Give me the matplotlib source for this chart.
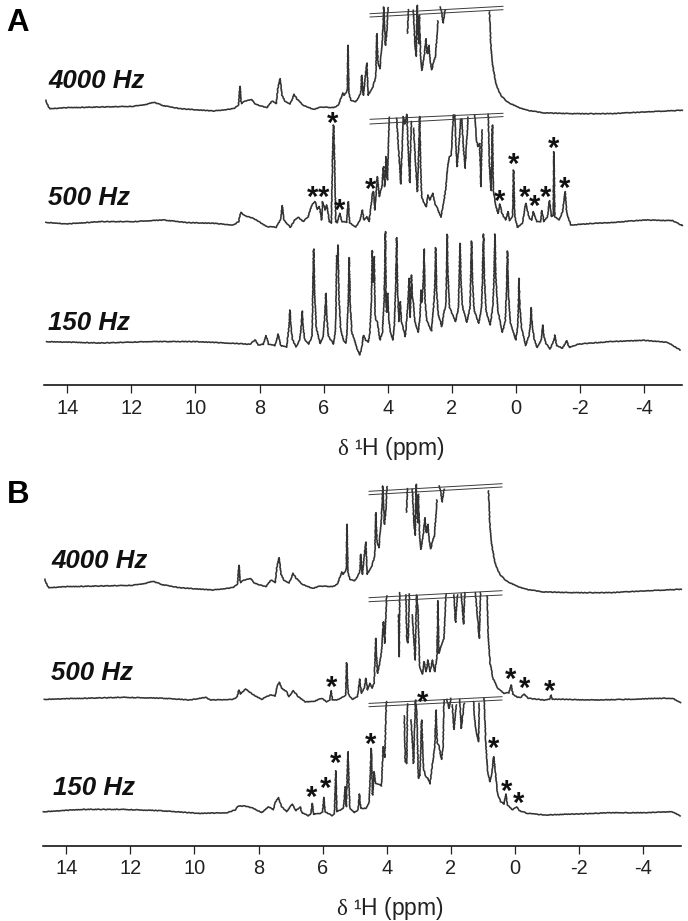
#! /usr/bin/env python3

import matplotlib
matplotlib.use('Agg')
import matplotlib.pyplot as plt

nan = float('nan')

plt.rcParams['font.family'] = ['Liberation Sans', 'DejaVu Sans']
plt.rcParams['mathtext.fontset'] = 'custom'
plt.rcParams['mathtext.rm'] = 'Liberation Sans'
plt.rcParams['mathtext.it'] = 'Liberation Serif'

# spectra: ppm and intensity above each trace's own baseline, nan = cut off at the break lines
hz4000_ppm = [14.67, 14.6, 14.54, 14.02, 12.98, 11.94, 11.52, 11.3, 11.0, 10.48, 9.44, 8.82, 8.66, 8.61, 8.57, 8.45, 8.24, 8.14, 7.98, 7.77,
              7.61, 7.48, 7.43, 7.36, 7.30, 7.2, 7.05, 6.92, 6.84, 6.63, 6.32, 6.06, 5.69, 5.54, 5.4, 5.36, 5.26, 5.24, 5.21, 5.15,
              5, 4.84, 4.81, 4.76, 4.65, 4.61, 4.48, 4.37, 4.34, 4.30, 4.24, 4.17, 4.14, 4.12, 4.07, 4.03, 3.99, nan,
              3.38, 3.35, nan,
              3.2, 3.15, 3.11, 3.08, 3.03, 3.01, 2.97, 2.93, 2.86, 2.81, 2.76, 2.71, 2.67, 2.62, 2.57, 2.51, 2.43, nan,
              2.36, 2.31, 2.27, 2.21, nan,
              0.82, 0.78, 0.73, 0.62, 0.47, 0.26, -0.05, -0.36, -0.89, -1.93, -2.97, -4.01, -5.2]
hz4000_int = [7.7, 1.7, -0.7, 0.3, 1, 1.7, 3.7, 5.7, 2.3, -0.7, -3, -0.7, 2.3, 21.7, 4.3, 7, 8.3, 4.3, 2.3, 0.3,
              7, 4.3, 19.3, 29.3, 12.7, 6.7, 3.7, 13.7, 9.3, 2.7, -1.3, 1, 0.3, 2.7, 15, 12.7, 17.7, 62.7, 14.3, 7.7,
              6, 14.3, 32.7, 12.7, 45, 12.7, 19.3, 31, 74.3, 44, 39.3, 66, 84.3, 101, 62.7, 74.3, 100.3, nan,
              75, 98.3, nan,
              97.7, 64.3, 51.7, 102.7, 64.3, 92.7, 51, 37.7, 51, 69.3, 54.3, 62.7, 46, 38.3, 46, 51, 87, nan,
              101, 94.3, 85, 97.7, nan,
              96, 64.3, 44.3, 24.3, 12.7, 6, 1, -2.3, -5, -5.7, -5.7, -4, -2.3]

a500_ppm = [14.67, 14.02, 12.98, 11.94, 11, 10.27, 9.44, 8.82, 8.65, 8.59, 8.45, 8.19, 7.98, 7.77, 7.48, 7.35, 7.29, 7.24, 7.04, 6.9,
            6.79, 6.63, 6.48, 6.37, 6.27, 6.19, 6.13, 6.06, 6.03, 5.95, 5.9, 5.82, 5.76, 5.72, 5.69, 5.66, 5.62, 5.57, 5.5, 5.43,
            5.36, 5.28, 5.23, 5.19, 5, 4.86, 4.79, 4.74, 4.65, 4.58, 4.47, 4.44, 4.4, 4.32, 4.26, 4.18, 4.13, 4.09, 4.05, 4.01, 3.95, nan,
            3.72, 3.66, 3.59, 3.54, 3.51, 3.46, 3.40, 3.36, 3.31, 3.26, nan,
            3.19, 3.13, 3.07, 3.03, 3.0, 2.97, 2.94, 2.86, 2.79, 2.74, 2.68, 2.59, 2.53, 2.45, 2.34, 2.26, 2.19, 2.13, 2.07, 2.01, 1.95, 1.90,
            1.87, 1.83, 1.78, 1.72, 1.68, 1.64, 1.58, 1.53, 1.49, nan,
            1.28, 1.23, 1.18, 1.13, 1.09, 1.05, nan,
            0.86, 0.82, 0.77, 0.73, 0.7, 0.62, 0.55, 0.5, 0.43, 0.32, 0.24, 0.19, 0.1, 0.07, 0.03, -0.05, -0.21, -0.31, -0.42, -0.5,
            -0.55, -0.66, -0.78, -0.81, -0.88, -0.99, -1.05, -1.11, -1.17, -1.19, -1.22, -1.35, -1.46, -1.54, -1.59, -1.72, -2.45, -2.97, -4.01, -4.89, -5.2]
a500_int = [1, -0.7, 1.7, 1.7, 3.3, 0.7, 0, -1.7, 1.7, 11, 7.3, 5, 0.7, -3.3, -4, 3.3, 17.7, 3.3, -4, 3.3,
            6, 1.7, 6.7, 18.3, 21.7, 14, 16.7, 3.3, 21.7, 13.3, 18.3, 1.7, 0, 66.7, 98.3, 66.7, 1.7, 0.7, 10, 1.7,
            1.7, 0.7, 21.7, 0.7, -4, 3.3, 13.3, 3.3, 6.7, 1.7, 30, 31.7, 13.3, 46.7, 26.7, 36.7, 56.7, 36.7, 66.7, 43.3, 106, nan,
            105, 73.3, 39.3, 83.3, 106.7, 99.3, 109, 73.3, 40.7, 101.7, nan,
            95, 60, 31.7, 73.3, 106.7, 56.7, 26.7, 20, 16.7, 28.3, 23.3, 30, 20, 15, 6, 20, 33.3, 56.7, 66.7, 68.3, 108.3, 108.3,
            76.7, 56.7, 76.7, 104, 104, 76.7, 55, 83.3, 106, nan,
            108.3, 83.3, 76.7, 80, 36.7, 93.3, nan,
            109, 56.7, 32.7, 98.3, 31.7, 16.7, 10, 19.3, 10, 3.3, 11.7, 2.7, 6.7, 53.3, 6.7, -4, 0, 20, 5, 3.3,
            11.7, 1.7, 1.7, 12.7, 1.7, 6.7, 22.7, 6.7, 8.3, 71.7, 6.7, 3.3, 11.7, 31.7, 10, -1.7, 0, 0.7, 3.3, 2.7, -2.3]

a150_ppm = [14.65, 12.98, 11.42, 10.01, 8.82, 8.3, 8.14, 8.04, 7.88, 7.8, 7.72, 7.52, 7.42, 7.34, 7.15,
            7.13, 7.08, 7.05, 7.02, 6.97, 6.86, 6.75, 6.7, 6.67, 6.64, 6.59, 6.47,
            6.39, 6.36, 6.34, 6.31, 6.28, 6.23, 6.11, 6.01, 5.96, 5.93, 5.9, 5.85, 5.69,
            5.65, 5.62, 5.6, 5.59, 5.57, 5.55, 5.52, 5.47, 5.38, 5.31, 5.28, 5.23, 5.2, 5.17, 5.12, 5.05,
            4.96, 4.87, 4.81, 4.76, 4.74, 4.68, 4.61, 4.56, 4.51, 4.48, 4.45, 4.42, 4.39, 4.36, 4.32, 4.24,
            4.16, 4.11, 4.09, 4.07, 4.05, 4.03, 4, 3.97, 3.92, 3.84,
            3.79, 3.75, 3.72, 3.69, 3.65, 3.61, 3.57, 3.45,
            3.38, 3.36, 3.33, 3.3, 3.27, 3.26, 3.23, 3.2, 3.15, 3.05,
            2.99, 2.96, 2.93, 2.89, 2.86, 2.83, 2.78, 2.63,
            2.57, 2.53, 2.5, 2.47, 2.42, 2.31,
            2.24, 2.18, 2.16, 2.14, 2.12, 2.07, 1.88,
            1.79, 1.77, 1.74, 1.71, 1.66, 1.53,
            1.43, 1.41, 1.38, 1.35, 1.3, 1.16,
            1.07, 1.04, 1.01, 0.98, 0.93, 0.8,
            0.72, 0.68, 0.65, 0.62, 0.56, 0.42,
            0.33, 0.29, 0.26, 0.23, 0.17, 0,
            -0.06, -0.08, -0.1, -0.13, -0.18, -0.31,
            -0.42, -0.46, -0.48, -0.51, -0.57, -0.66,
            -0.79, -0.82, -0.84, -0.87, -0.94, -1.07,
            -1.19, -1.22, -1.25, -1.28, -1.46, -1.59, -1.67, -1.93, -2.13, -2.97, -4.01, -4.74, -5.13]
a150_int = [0.7, -0.7, 0.7, 0.7, -1, -2, 2.3, -2.7, -2, 6.7, -2, -3.3, 8.3, -3.3, -4.7,
            2.7, 15.6, 32.3, 15.6, 2.7, -4.7, 2.5, 15, 31.3, 16, 3, -2,
            4, 7, 45, 93.3, 50, 15, -1.3, 6, 27, 49, 26, 6, -1.7,
            6, 18, 70, 86.7, 80, 97.3, 45, 13, 2.3, -1, 6, 40, 84.7, 40, 10, 4,
            -6, -12.7, -6, 6.7, 6.7, 2, 0, 8, 40, 91.7, 60, 85.7, 26, 22, 20, 2.3,
            10.7, 44, 70, 110.7, 40, 30, 49, 25, 10, 2.3,
            18, 55, 104.7, 50, 20.7, 40.7, 20.7, 5.7,
            34, 45, 64, 25, 50, 67.3, 45, 40.7, 20.7, 10,
            25, 52.3, 40, 60, 93.3, 40, 22, 11.3,
            34, 55, 94.7, 50, 28, 15.7,
            30.7, 37.3, 70, 108, 70, 35, 20.7,
            34, 60, 99, 60, 35, 20,
            34, 60, 101.3, 60, 32, 19,
            34, 65, 108.3, 65, 32, 17.3,
            34, 65, 108.3, 65, 32, 10,
            20.7, 50, 91.3, 50, 20, 2.3,
            15, 35, 64, 35, 14, -3.3,
            8, 20, 34.7, 18, 4, -5.3,
            2, 9, 17.3, 8, -1, -6.7,
            2, 7.3, 1, -3.3, -6, 1.7, -5.3, -2, -1.3, 0.7, 2, 0, -7.7]

b500_ppm = [14.69, 13.47, 12.22, 10.97, 10.14, 9.65, 9.51, 8.79, 8.66, 8.62, 8.56, 8.4, 8.16, 7.9, 7.64, 7.48, 7.43, 7.35, 7.28, 7.12,
            7.06, 6.91, 6.76, 6.55, 6.29, 6.03, 5.87, 5.77, 5.74, 5.69, 5.56, 5.35, 5.28, 5.25, 5.2, 5.07, 4.91, 4.84, 4.79, 4.7,
            4.65, 4.6, 4.52, 4.46, 4.39, 4.34, 4.29, 4.22, 4.16, 4.1, 4.06, 4, nan,
            3.63, 3.61, 3.59, nan,
            3.4, 3.37, 3.33, 3.29, nan,
            3.2, 3.11, 3.07, 3.02, 2.97, 2.88, 2.83, 2.77, 2.71, 2.64, 2.57, 2.5, 2.43, 2.4, 2.37, 2.29, 2.21, 2.15, nan,
            1.9, 1.85, 1.79, nan,
            1.67, 1.6, 1.56, nan,
            1.23, 1.17, 1.11, 1.07, nan,
            0.86, 0.83, 0.77, 0.68, 0.54, 0.33, 0.18, 0.11, 0.06, -0.08, -0.19, -0.29, -0.42, -0.92, -1.09, -1.13, -1.18, -1.49, -2.48, -3.52,
            -4.56, -4.92, -5.18]
b500_int = [0.7, 1.7, 2.7, 1.7, 0, 2.7, 0, 0.7, 3.3, 10, 6, 11, 5, 0.7, 5, 4, 13.3, 17.7, 11.7, 8.3,
            3.3, 9.3, 3.3, -1.7, -1.7, 1.7, -1.7, 0, 9.3, 0, 0, 3.3, 5, 37.3, 6, 0.7, 3.3, 21, 6.7, 11.7,
            21.7, 10, 16.7, 11.7, 16.7, 61.7, 26.7, 36.7, 48.3, 78.3, 56.7, 104, nan,
            85, 43.3, 107.3, nan,
            105, 60, 57.3, 106, nan,
            85, 40, 105, 90, 33.3, 26, 38.3, 28.3, 40, 28.3, 40, 28.3, 43.3, 99.3, 46.7, 55, 61.7, 106, nan,
            105, 77.7, 105, nan,
            106, 76, 107.3, nan,
            107.3, 85, 61.7, 107.3, nan,
            104, 63.3, 36.7, 21.7, 11.7, 6.7, 7.3, 15, 6, 2.7, 2.7, 6, 1.7, 0, 0.7, 5, 0.7, 0.7, 0, 0.7,
            1.7, 1.7, -2.3]

b150_ppm = [14.72, 13.47, 12.22, 11.08, 9.83, 8.99, 8.73, 8.63, 8.42, 8.16, 7.9, 7.69, 7.54, 7.48, 7.38, 7.28, 7.12, 6.95, 6.83, 6.7,
            6.65, 6.44, 6.36, 6.32, 6.28, 6.08, 6, 5.96, 5.92, 5.71, 5.63, 5.59, 5.55, 5.35, 5.29, 5.26, 5.21, 5.15, 5.01, 4.89,
            4.85, 4.81, 4.65, 4.55, 4.48, 4.44, 4.39, 4.35, 4.26, 4.16, 4.11, 4.06, 4.01, nan,
            3.45, 3.42, 3.37, 3.35, nan,
            3.24, 3.16, 3.1, 3.06, 3.01, 2.96, 2.91, 2.85, 2.78, 2.71, 2.65, 2.58, 2.5, 2.46, 2.42, 2.37, 2.29, 2.24, 2.21, nan,
            2.12, 2.05, 2, nan,
            1.95, 1.9, 1.83, nan,
            1.72, 1.67, 1.58, nan,
            1.29, 1.24, 1.2, 1.13, 1.11, nan,
            0.96, 0.91, 0.85, 0.78, 0.72, 0.66, 0.61, 0.54, 0.44, 0.33, 0.28, 0.23, 0.07, -0.06, -0.14, -0.4, -0.92, -1.96, -3, -4.04,
            -4.92, -5.16]
b150_int = [0, 2.3, 2.3, 1, -1.7, -1, 1.7, 5.7, 5.7, 3.3, -1, 5, 1.7, 9, 14.3, 5, 0, 7.7, 1, 5,
            -1, -4, -1.7, 8.3, -2.7, -1.7, 0, 14.3, 0, -4, -1.7, 41, 0, 3.3, 25, 5, 60, 3.3, -1, 1.7,
            17.7, 3.3, 3.3, 8.3, 63.3, 16.7, 40, 28.3, 27.7, 25.7, 65, 54.3, 110, nan,
            95.7, 50, 48.3, 107.7, nan,
            91.7, 48.3, 111.7, 98.3, 33.3, 36.7, 91.7, 43.3, 35, 33.3, 27.7, 45, 65, 101.7, 68.3, 66.7, 52.3, 65, 111.7, nan,
            112.3, 103.3, 113.3, nan,
            106.7, 82.3, 106.7, nan,
            112.3, 83.3, 108.3, nan,
            110, 88.3, 80, 70, 108.3, nan,
            113.3, 71.7, 41.7, 30, 38.3, 55, 41.7, 18.3, 10, 7.7, 17.7, 6.7, 1.7, 5, 1, -1.7, -3.3, -2.3, -1, -1,
            0, -4.3]

# baseline of each trace above the axis
a_levels = [277.5, 162.2, 43.2]
b_levels = [258.7, 145.7, 34.0]

# break lines (ppm ends, intensity of the lower and upper rail at each end)
break_ppm = [4.55, 0.4]
a_breaks = [[(91, 98.3), (94.3, 101.7)], [(99.3, 106.7), (104, 110)], None]
b_breaks = [[(92.3, 100), (95.7, 103.3)], [(98.3, 105), (102.3, 109.3)], [(105, 111.7), (108.3, 115)]]

# asterisks, height above the axis
a_star_ppm = [5.73, 6.36, 6.0, 5.5, 4.53, 0.52, 0.07, -0.26, -0.6, -0.93, -1.18, -1.53]
a_star_y = [264.2, 190.2, 190.2, 177.5, 198.5, 186.8, 223.5, 190.2, 182, 190.2, 239.5, 199.2]
b_star_ppm = [5.71, 0.12, -0.31, -1.1, 2.89, 6.34, 5.92, 5.61, 4.5, 0.65, 0.26, -0.12]
b_star_y = [161, 168.7, 159.7, 157, 145.4, 51, 59.7, 84.4, 103.7, 99.4, 56.4, 44.7]

hz_labels = ['4000 Hz', '500 Hz', '150 Hz']
a_label_y = [297.5, 180.5, 55.5]
b_label_y = [278, 165.7, 50.7]
b_label_x = [14.48, 14.48, 14.42]
ticks = [14, 12, 10, 8, 6, 4, 2, 0, -2, -4]

W, H = 688, 921
fig = plt.figure(figsize=(W/100, H/100), dpi=100)


def panel(bottom_px, top_px, left_px, levels, traces, breaks, star_ppm, star_y, label_x, label_y):
    ax = fig.add_axes([left_px/W, 1 - bottom_px/H, 638/W, (bottom_px - top_px)/H])
    ax.set_xlim(14.73, -5.19)
    ax.set_ylim(0, bottom_px - top_px)
    ax.patch.set_alpha(0)
    for s in ['top', 'left', 'right']:
        ax.spines[s].set_visible(False)
    ax.spines['bottom'].set_linewidth(1.1)
    ax.set_yticks([])
    ax.set_xticks(ticks)
    ax.set_xticklabels([str(t) for t in ticks], fontsize=14.4)
    ax.tick_params(axis='x', length=5.5, width=0.9, pad=4, colors='#222222')
    ax.set_xlabel(r'$\delta$ ¹H (ppm)', fontsize=16.5, color='#222222')
    ax.xaxis.set_label_coords(347/638, -49/(bottom_px - top_px))

    for lev, (ppm, vals), br in zip(levels, traces, breaks):
        line, = ax.plot(ppm, [v + lev for v in vals], color='#333333', lw=1.15, solid_joinstyle='round', clip_on=False)
        # slight roughness of the recorded trace
        line.set_sketch_params(scale=0.3, length=2.5, randomness=3)
        if br:
            for rail in br:
                ax.plot(break_ppm, [rail[0] + lev, rail[1] + lev], color='#3a3a3a', lw=0.7)

    for x, y in zip(star_ppm, star_y):
        ax.text(x, y, '*', fontsize=21, fontweight='bold', ha='center', va='center_baseline', color='#111111')

    for lab, x, y in zip(hz_labels, label_x, label_y):
        ax.text(x, y, lab, fontsize=18.6, fontweight='bold', fontstyle='italic', ha='left', va='baseline', color='#111111')
    return ax


panel(385.5, 0, 44, a_levels,
      [(hz4000_ppm, hz4000_int), (a500_ppm, a500_int), (a150_ppm, a150_int)],
      a_breaks, a_star_ppm, a_star_y, [14.6, 14.6, 14.6], a_label_y)
# the 4000 Hz trace is the same reference spectrum in both panels
panel(845.7, 470, 43, b_levels,
      [(hz4000_ppm, hz4000_int), (b500_ppm, b500_int), (b150_ppm, b150_int)],
      b_breaks, b_star_ppm, b_star_y, b_label_x, b_label_y)

fig.text(6/W, 1 - 31/H, 'A', fontsize=22.5, fontweight='bold', ha='left', va='baseline')
fig.text(7/W, 1 - 503/H, 'B', fontsize=22.5, fontweight='bold', ha='left', va='baseline')

fig.savefig('out.png', dpi=100)
